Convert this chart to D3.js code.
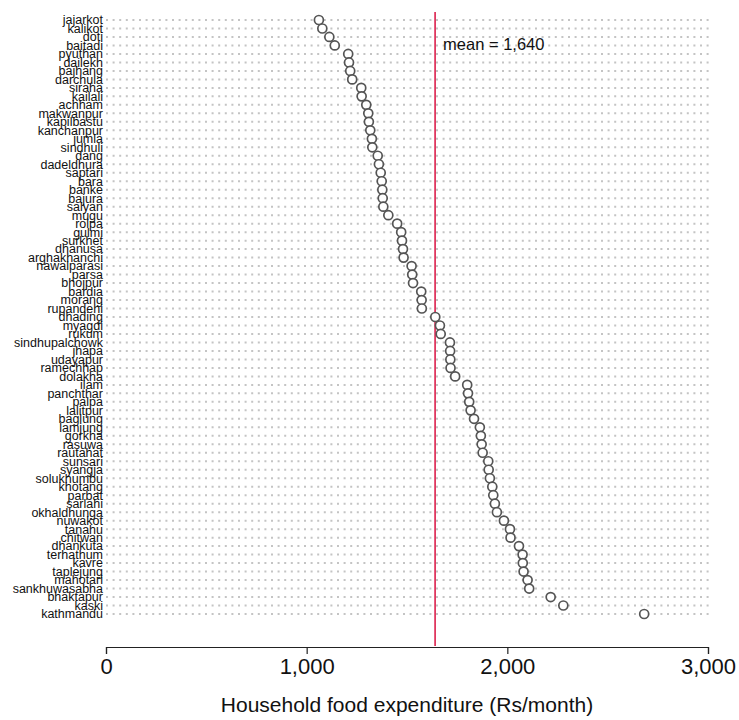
<!DOCTYPE html>
<html>
<head>
<meta charset="utf-8">
<script src="https://cdn.jsdelivr.net/npm/d3@7"></script>
<style>
  html, body { margin: 0; padding: 0; background: #fff; }
  svg { display: block; font-family: "Liberation Sans", Arial, sans-serif; }
</style>
</head>
<body>
<svg id="chart" width="739" height="720"></svg>
<script>
// Districts, ordered from lowest to highest monthly household food expenditure
const districts = [
  "jajarkot","kalikot","doti","baitadi","pyuthan","dailekh","bajhang","darchula",
  "siraha","kailali","achham","makwanpur","kapilbastu","kanchanpur","jumla","sindhuli",
  "dang","dadeldhura","saptari","bara","banke","bajura","salyan","mugu","rolpa","gulmi",
  "surkhet","dhanusa","arghakhanchi","nawalparasi","parsa","bhojpur","bardia","morang",
  "rupandehi","dhading","myagdi","rukum","sindhupalchowk","jhapa","udayapur","ramechhap",
  "dolakha","ilam","panchthar","palpa","lalitpur","baglung","lamjung","gorkha","rasuwa",
  "rautahat","sunsari","syangja","solukhumbu","khotang","parbat","sarlahi","okhaldhunga",
  "nuwakot","tanahu","chitwan","dhankuta","terhathum","kavre","taplejung","mahotari",
  "sankhuwasabha","bhaktapur","kaski","kathmandu"
];

// Household food expenditure (Rs/month), same order as districts
const expenditure = [
  1061, 1078, 1113, 1140, 1207, 1211, 1217, 1227,
  1272, 1274, 1297, 1307, 1310, 1317, 1325, 1327,
  1354, 1360, 1369, 1374, 1377, 1379, 1382, 1407, 1451, 1471,
  1475, 1480, 1483, 1523, 1526, 1530, 1571, 1573,
  1574, 1641, 1664, 1668, 1714, 1715, 1716, 1717,
  1740, 1800, 1804, 1810, 1817, 1834, 1863, 1868, 1872,
  1877, 1905, 1907, 1913, 1925, 1930, 1938, 1948,
  1983, 2013, 2016, 2058, 2076, 2077, 2081, 2101,
  2109, 2216, 2279, 2682
];

const meanValue = 1640;
const xTicks = [0, 1000, 2000, 3000];
const xTitle = "Household food expenditure (Rs/month)";

const svg = d3.select("#chart");
const margin = { left: 106, right: 31, top: 20, bottom: 106 };
const W = 739, H = 720;

const x = d3.scaleLinear().domain([0, 3000]).range([margin.left, W - margin.right]);
const y = d3.scalePoint().domain(districts).range([margin.top, H - margin.bottom]);

// dotted guide line for each district
svg.append("g")
  .selectAll("line")
  .data(districts)
  .join("line")
  .attr("x1", x(0))
  .attr("x2", x(3000) + 4)
  .attr("y1", d => y(d))
  .attr("y2", d => y(d))
  .attr("stroke", "#c4c4c4")
  .attr("stroke-width", 2)
  .attr("stroke-dasharray", "2,4.6");

// district labels
svg.append("g")
  .selectAll("text")
  .data(districts)
  .join("text")
  .attr("x", x(0) - 3)
  .attr("y", d => y(d))
  .attr("dy", "0.35em")
  .attr("text-anchor", "end")
  .attr("font-size", 12.5)
  .attr("fill", "#111")
  .text(d => d);

// mean reference line
svg.append("line")
  .attr("x1", x(meanValue)).attr("x2", x(meanValue))
  .attr("y1", 12).attr("y2", 646)
  .attr("stroke", "#dc1f4c")
  .attr("stroke-width", 1.6);

svg.append("text")
  .attr("x", x(meanValue) + 8)
  .attr("y", 50)
  .attr("font-size", 16.5)
  .attr("fill", "#111")
  .text("mean = " + d3.format(",")(meanValue));

// points
svg.append("g")
  .selectAll("circle")
  .data(districts)
  .join("circle")
  .attr("cx", (d, i) => x(expenditure[i]))
  .attr("cy", d => y(d))
  .attr("r", 4.5)
  .attr("fill", "#fff")
  .attr("stroke", "#555")
  .attr("stroke-width", 1.7);

// x axis
const axis = d3.axisBottom(x)
  .tickValues(xTicks)
  .tickFormat(d3.format(","))
  .tickSizeOuter(0)
  .tickSize(7)
  .tickPadding(4);

const gx = svg.append("g")
  .attr("transform", `translate(0,${647})`)
  .call(axis);
gx.select(".domain").attr("stroke", "#222").attr("stroke-width", 1.2);
gx.selectAll(".tick line").attr("stroke", "#222").attr("stroke-width", 1.2);
gx.selectAll(".tick text")
  .attr("font-size", 22)
  .attr("font-family", "Liberation Sans, Arial, sans-serif")
  .attr("fill", "#111");

svg.append("text")
  .attr("x", (x(0) + x(3000)) / 2)
  .attr("y", 712)
  .attr("text-anchor", "middle")
  .attr("font-size", 21)
  .attr("fill", "#111")
  .text(xTitle);
</script>
</body>
</html>
